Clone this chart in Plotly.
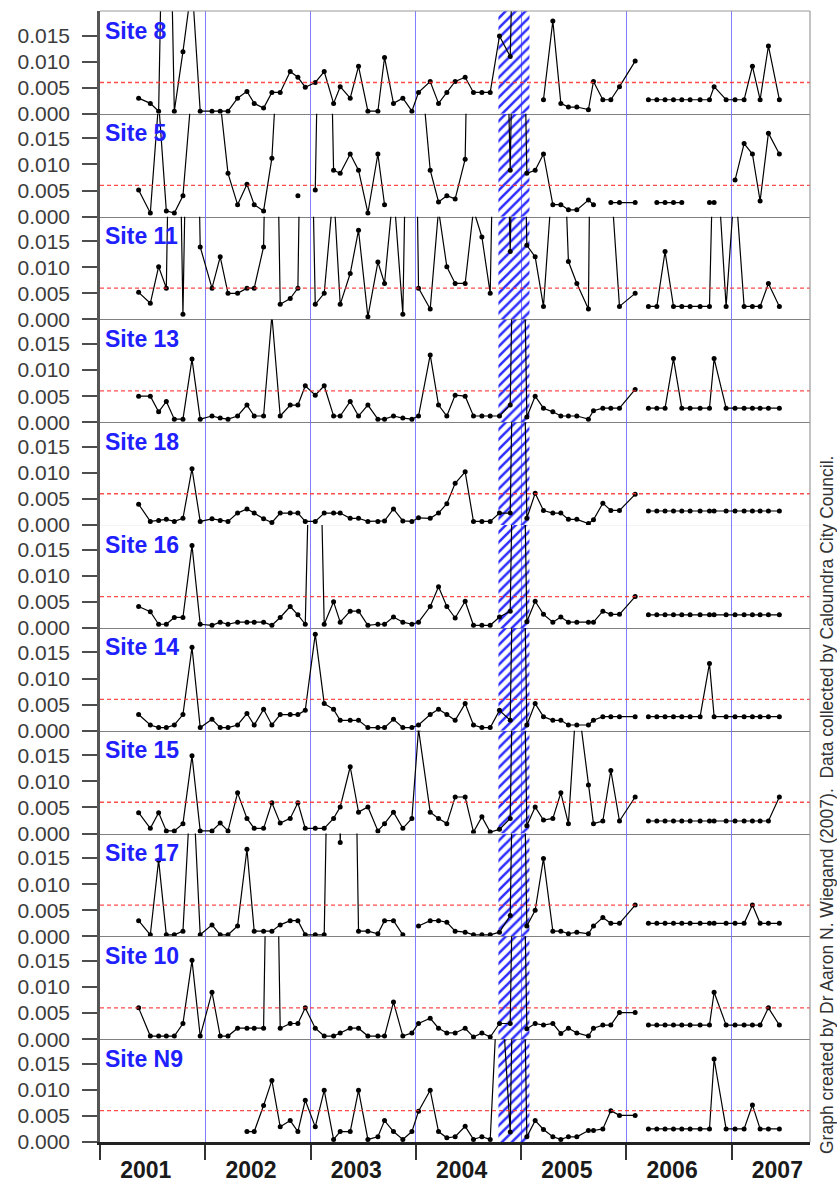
import plotly.graph_objects as go
from plotly.subplots import make_subplots

N = None

# Sampling times (decimal years): monthly programme 2001-2005 and the 2006-2007 programme
T_A = [2001.367, 2001.478, 2001.557, 2001.630, 2001.706, 2001.788, 2001.874, 2001.952,
       2002.064, 2002.142, 2002.216, 2002.307, 2002.396, 2002.465, 2002.554, 2002.633, 2002.712, 2002.807, 2002.880, 2002.950,
       2003.045, 2003.130, 2003.219, 2003.282, 2003.377, 2003.456, 2003.545, 2003.640, 2003.703, 2003.788, 2003.877, 2003.963,
       2004.026, 2004.137, 2004.216, 2004.295, 2004.374, 2004.469, 2004.548, 2004.628, 2004.707, 2004.795, 2004.897, 2004.976,
       2005.055, 2005.134, 2005.213, 2005.302, 2005.378, 2005.450, 2005.530, 2005.640, 2005.688, 2005.777, 2005.853, 2005.935,
       2006.084]
T_B = [2006.210, 2006.290, 2006.368, 2006.448, 2006.527, 2006.606, 2006.701, 2006.790, 2006.834, 2006.948,
       2007.033, 2007.119, 2007.198, 2007.271, 2007.350, 2007.454]

# Concentrations per site (values above the axis top are off-scale samples)
site8_a = [.0030, .0020, .0005, .08, .0005, .0119, .025, .0005,
           .0005, .0005, .0005, .0030, .0043, .0020, .0011, .0041, .0041, .0081, .0070, .0051,
           .0060, .0081, .0020, .0052, .0030, .0091, .0005, .0005, .0108, .0020, .0030, .0005,
           .0041, .0062, .0020, .0041, .0062, .0070, .0041, .0041, .0041, .0149, .0110, .08,
           N, N, .0027, .0178, .0020, .0013, .0013, .0008, .0062, .0027, .0027, .0052, .0101]
site8_b = [.0027, .0027, .0027, .0027, .0027, .0027, .0027, .0027, .0052, .0027, .0027, .0027, .0091, .0027, .0130, .0027]

site5_a = [.0051, .0007, .022, .0011, .0007, .0040, .025, N,
           N, .022, .0083, .0023, .0062, .0023, .0011, .0112, .040, N, .0040, N,
           .0051, .10, .0089, .0083, .0120, .0089, .0007, .0120, .0023, N, N, N,
           .034, .0089, .0028, .0040, .0034, .0110, .10, N, N, .10, .0089, .10,
           .0083, .0089, .0120, .0023, .0023, .0013, .0013, .0032, .0023, N, .0027, .0027, .0027]
site5_b = [N, .0027, .0027, .0027, .0027, N, N, .0027, .0027, N, .0070, .0140, .0120, .0030, .0160, .0120]

site11_a = [.0052, .0031, .0101, .0060, .10, .0010, .10, .0139,
            .0060, .0120, .0050, .0050, .0060, .0060, .0139, .10, .0029, .0040, .0060, .10,
            .0029, .0050, .025, .0029, .0088, .0171, .0005, .0110, .0069, .025, .0010, .10,
            .0060, .0020, .021, .0101, .0069, .0069, .021, .0158, .0050, .10, .0130, .10,
            .0142, .0120, .0025, .029, .050, .0111, .0069, .0020, .10, N, .027, .0025, .0050]
site11_b = [.0025, .0025, .0130, .0025, .0025, .0025, .0025, .0025, .040, .0025, .027, .0025, .0025, .0025, .0069, .0025]

site13_a = [.0050, .0050, .0020, .0040, .0006, .0006, .0121, .0006,
            .0012, .0008, .0006, .0012, .0033, .0012, .0012, .0205, .0012, .0033, .0033, .0070,
            .0052, .0070, .0012, .0012, .0040, .0012, .0033, .0006, .0006, .0012, .0008, .0006,
            .0012, .0129, .0033, .0012, .0052, .0050, .0012, .0012, .0012, .0012, .0033, .10,
            .0010, .0050, .0027, .0020, .0012, .0012, .0012, .0006, .0022, .0027, .0027, .0027, .0063]
site13_b = [.0027, .0027, .0027, .0122, .0027, .0027, .0027, .0027, .0122, .0027, .0027, .0027, .0027, .0027, .0027, .0027]

site18_a = [.0040, .0007, .0009, .0011, .0007, .0013, .0108, .0007,
            .0012, .0009, .0007, .0023, .0031, .0023, .0012, .0005, .0023, .0023, .0023, .0007,
            .0007, .0023, .0023, .0023, .0013, .0013, .0007, .0007, .0008, .0031, .0008, .0007,
            .0014, .0013, .0023, .0041, .0080, .0102, .0007, .0007, .0007, .0023, .0023, .10,
            .0013, .0061, .0028, .0023, .0023, .0011, .0011, .0003, .0010, .0042, .0028, .0028, .0059]
site18_b = [.0027, .0027, .0027, .0027, .0027, .0027, .0027, .0027, .0027, .0027, .0027, .0027, .0027, .0027, .0027, .0027]

site16_a = [.0041, .0031, .0007, .0007, .0020, .0020, .0158, .0007,
            .0005, .0011, .0007, .0011, .0011, .0011, .0011, .0005, .0020, .0041, .0025, .0007,
            .08, .0007, .0050, .0011, .0032, .0032, .0005, .0007, .0007, .0021, .0011, .0007,
            .0011, .0041, .0079, .0041, .0019, .0051, .0005, .0005, .0005, .0021, .0032, .10,
            .0012, .0051, .0026, .0011, .0021, .0011, .0011, .0011, .0011, .0032, .0026, .0026, .0060]
site16_b = [.0025, .0025, .0025, .0025, .0025, .0025, .0025, .0025, .0025, .0025, .0025, .0025, .0025, .0025, .0025, .0025]

site14_a = [.0031, .0011, .0006, .0006, .0011, .0031, .0160, .0006,
            .0022, .0006, .0006, .0011, .0033, .0011, .0041, .0011, .0031, .0031, .0031, .0039,
            .0185, .0052, .0041, .0020, .0020, .0020, .0006, .0006, .0006, .0022, .0006, .0006,
            .0011, .0031, .0041, .0031, .0020, .0052, .0011, .0006, .0006, .0039, .0020, .10,
            .0011, .0052, .0027, .0020, .0020, .0011, .0011, .0011, .0020, .0027, .0027, .0027, .0027]
site14_b = [.0027, .0027, .0027, .0027, .0027, .0027, .0027, .0129, .0027, .0027, .0027, .0027, .0027, .0027, .0027, .0027]

site15_a = [.0040, .0010, .0040, .0005, .0005, .0019, .0149, .0005,
            .0005, .0020, .0005, .0078, .0029, .0010, .0010, .0059, .0020, .0029, .0059, .0010,
            .0010, .0010, .0029, .0051, .0128, .0041, .0051, .0005, .0019, .0041, .0010, .0029,
            .0200, .0041, .0029, .0019, .0070, .0070, .0003, .0032, .0003, .0008, .0029, .10,
            .0015, .0051, .0026, .0029, .0078, .0019, .027, .0093, .0019, .0024, .0121, .0024, .0070]
site15_b = [.0024, .0024, .0024, .0024, .0024, .0024, .0024, .0024, .0024, .0024, .0024, .0024, .0024, .0024, .0024, .0070]

site17_a = [.0030, .0003, .0146, .0003, .0003, .0010, .033, .0003,
            .0022, .0003, .0003, .0020, .0167, .0010, .0010, .0010, .0022, .0030, .0030, .0003,
            .0003, .0003, .10, .0180, .10, .0010, .0010, .0005, .0030, .0030, .0003, N,
            .0020, .0030, .0030, .0027, .0010, .0008, .0003, .0003, .0003, .0008, .0040, .10,
            .0020, .0050, .0149, .0010, .0010, .0005, .0008, .0005, .0020, .0036, .0025, .0025, .0060]
site17_b = [.0025, .0025, .0025, .0025, .0025, .0025, .0025, .0025, .0025, .0025, .0025, .0025, .0060, .0025, .0025, .0025]

site10_a = [.0060, .0006, .0006, .0006, .0006, .0030, .0151, .0006,
            .0090, .0006, .0006, .0021, .0021, .0021, .0021, .10, .0021, .0030, .0030, .0060,
            .0021, .0006, .0006, .0012, .0021, .0021, .0006, .0006, .0006, .0071, .0006, .0012,
            .0030, .0040, .0021, .0012, .0012, .0021, .0004, .0012, .0004, .0030, .0030, .10,
            .0020, .0030, .0027, .0030, .0011, .0021, .0012, .0006, .0021, .0027, .0027, .0051, .0051]
site10_b = [.0027, .0027, .0027, .0027, .0027, .0027, .0027, .0027, .0090, .0027, .0027, .0027, .0027, .0027, .0060, .0027]

siteN9_a = [N, N, N, N, N, N, N, N,
            N, N, N, N, .0020, .0020, .0070, .0118, .0029, .0041, .0020, .0080,
            .0029, .0099, .0005, .0020, .0020, .0099, .0005, .0010, .0041, .0020, .0005, .0020,
            .0059, .0099, .0020, .0008, .0010, .0030, .0005, .0010, .0005, .036, .0019, .10,
            .0010, .0041, .0024, .0010, .0005, .0010, .0010, .0022, .0022, .0025, .0060, .0051, .0051]
siteN9_b = [.0025, .0025, .0025, .0025, .0025, .0025, .0025, .0025, .0159, .0025, .0025, .0025, .0071, .0025, .0025, .0025]

SITE_NAMES = ["Site 8", "Site 5", "Site 11", "Site 13", "Site 18", "Site 16",
              "Site 14", "Site 15", "Site 17", "Site 10", "Site N9"]
SERIES_A = [site8_a, site5_a, site11_a, site13_a, site18_a, site16_a, site14_a, site15_a, site17_a, site10_a, siteN9_a]
SERIES_B = [site8_b, site5_b, site11_b, site13_b, site18_b, site16_b, site14_b, site15_b, site17_b, site10_b, siteN9_b]

YEARS = [2001, 2002, 2003, 2004, 2005, 2006, 2007]
Y_TICKS = [0.0, 0.005, 0.010, 0.015]
Y_TICK_TEXT = ["0.000", "0.005", "0.010", "0.015"]
GUIDELINE = 0.006
FLOOD_START, FLOOD_END = 2004.785, 2005.080
YMAX = 0.0197
X_RANGE = [2001.0, 2007.745]
CREDIT = "Graph created by Dr Aaron N. Wiegand (2007).  Data collected by Caloundra City Council."

FONT = "Liberation Sans"
n_rows = len(SITE_NAMES)
fig = make_subplots(rows=n_rows, cols=1, shared_xaxes=True, vertical_spacing=0)

for i, name in enumerate(SITE_NAMES, start=1):
    # hatched flood period
    fig.add_trace(go.Scatter(
        x=[FLOOD_START, FLOOD_START, FLOOD_END, FLOOD_END, FLOOD_START],
        y=[0, YMAX, YMAX, 0, 0],
        mode="lines", line=dict(width=0), fill="toself",
        fillcolor="rgba(0,0,0,0)",
        fillpattern=dict(shape="/", fgcolor="#2e2eff", bgcolor="rgba(0,0,0,0)",
                         size=7, solidity=0.37, fillmode="replace"),
        hoverinfo="skip", showlegend=False), row=i, col=1)
    x = T_A + [None] + T_B
    y = SERIES_A[i - 1] + [None] + SERIES_B[i - 1]
    fig.add_trace(go.Scatter(
        x=x, y=y, mode="lines+markers", connectgaps=False,
        line=dict(color="black", width=1.2),
        marker=dict(color="black", size=5),
        showlegend=False), row=i, col=1)
    fig.add_hline(y=GUIDELINE, row=i, col=1,
                  line=dict(color="rgba(255,45,45,0.85)", width=1.3, dash="4px,3px"))
    suffix = "" if i == 1 else str(i)
    fig.add_annotation(text=f"<b>{name}</b>", xref=f"x{suffix} domain", yref=f"y{suffix} domain",
                       x=0, y=0.81, xanchor="left", yanchor="middle", xshift=3, showarrow=False,
                       font=dict(family=FONT, size=23, color="#2020ff"))

fig.update_xaxes(
    range=X_RANGE, showgrid=False, zeroline=False, automargin=False,
    showline=True, linecolor="#808080", linewidth=1,
    tickmode="array", tickvals=[y + 0.435 for y in YEARS], ticktext=[str(y) for y in YEARS],
    ticks="", showticklabels=False,
    minor=dict(tickmode="array", tickvals=YEARS, showgrid=True,
               gridcolor="rgba(105,105,255,0.85)", gridwidth=1.2, ticks=""))
fig.update_xaxes(
    row=n_rows, col=1, showticklabels=True, ticks="outside", ticklen=6,
    tickcolor="rgba(0,0,0,0)",
    tickfont=dict(family=FONT, size=23, color="#1a1a1a", weight="bold"),
    linecolor="#222", linewidth=2.5,
    minor=dict(ticks="outside", ticklen=15, tickwidth=2, tickcolor="#333"))

fig.update_yaxes(
    range=[0, YMAX], tickmode="array", tickvals=Y_TICKS, ticktext=Y_TICK_TEXT,
    ticks="outside", ticklen=15, tickwidth=2, tickcolor="#4d4d4d",
    tickfont=dict(family=FONT, size=21, color="#3c3c3c"), automargin=False,
    showline=True, linecolor="#555", linewidth=2.5,
    showgrid=False, zeroline=False, ticklabelstandoff=8)

# frame: top and right edges
fig.add_shape(type="line", xref="paper", yref="paper", x0=0, x1=1, y0=1, y1=1,
              line=dict(color="#999", width=1.2))
fig.add_shape(type="line", xref="paper", yref="paper", x0=1, x1=1, y0=0, y1=1,
              line=dict(color="#999", width=1.2))

fig.add_annotation(text=CREDIT, xref="paper", yref="paper", x=1.024, y=0.298,
                   textangle=-90, showarrow=False, xanchor="center", yanchor="middle",
                   font=dict(family=FONT, size=17.5, color="#333"))

fig.update_layout(
    width=837, height=1185,
    margin=dict(l=100, r=27, t=11, b=43, pad=0),
    plot_bgcolor="white", paper_bgcolor="white",
    showlegend=False, hovermode=False)

fig.write_html("out.html")
